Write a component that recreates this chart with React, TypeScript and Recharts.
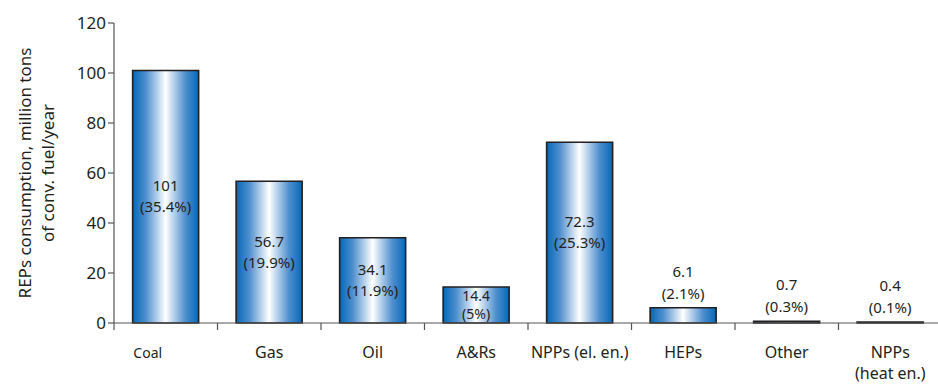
import { Bar, BarChart, LabelList, XAxis, YAxis } from 'recharts';

const categories = ['Coal', 'Gas', 'Oil', 'A&Rs', 'NPPs (el. en.)', 'HEPs', 'Other', 'NPPs (heat en.)'];
const tickLines = [['Coal'], ['Gas'], ['Oil'], ['A&Rs'], ['NPPs (el. en.)'], ['HEPs'], ['Other'], ['NPPs', '(heat en.)']];
const values = [101, 56.7, 34.1, 14.4, 72.3, 6.1, 0.7, 0.4];
const shares = ['35.4%', '19.9%', '11.9%', '5%', '25.3%', '2.1%', '0.3%', '0.1%'];
const yTicks = [0, 20, 40, 60, 80, 100, 120];

const data = categories.map((name, i) => ({ name, value: values[i], share: shares[i] }));

const font = '"Noto Sans", sans-serif';
const ink = '#231f20';

const CategoryTick = (props: any) => {
  const { x, y, payload, index } = props;
  const half = payload?.offset ?? 52;
  const lines = tickLines[index] ?? [payload.value];
  const first = index === 0;
  return (
    <g>
      <line x1={x - half} x2={x - half} y1={y - 8} y2={y - 1} stroke="#555" strokeWidth={1.2} />
      {lines.map((t: string, k: number) => (
        <text
          key={t}
          x={first ? x - 18 : x}
          y={y + 21 + k * 21}
          textAnchor="middle"
          dominantBaseline="central"
          fontFamily={font}
          fontSize={first ? 14 : 16}
          fill={ink}
        >
          {t}
        </text>
      ))}
    </g>
  );
};

const ValueLabel = (props: any) => {
  const { x, y, width, height, index } = props;
  const cx = x + width / 2;
  const top = [values[index].toString(), `(${shares[index]})`];
  let y1: number;
  let y2: number;
  let size = 15;
  if (height > 30) {
    const s = height < 50 ? 18 : 21;
    if (height < 50) size = 14;
    const mid = y + height / 2 - 1;
    y1 = mid - s / 2;
    y2 = mid + s / 2;
  } else {
    y2 = y - 15;
    y1 = y2 - 22;
  }
  return (
    <g fontFamily={font} fontSize={size} fill={ink} textAnchor="middle">
      <text x={cx} y={y1} dominantBaseline="central">{top[0]}</text>
      <text x={cx} y={y2} dominantBaseline="central">{top[1]}</text>
    </g>
  );
};

const YLabel = (props: any) => {
  const { viewBox } = props;
  const cy = viewBox.y + viewBox.height / 2;
  return (
    <g fontFamily={font} fontSize={17} fill={ink} textAnchor="middle">
      <text x={viewBox.x + 24} y={cy} transform={`rotate(-90 ${viewBox.x + 24} ${cy})`} dominantBaseline="central">
        REPs consumption, million tons
      </text>
      <text x={viewBox.x + 47} y={cy} transform={`rotate(-90 ${viewBox.x + 47} ${cy})`} dominantBaseline="central">
        of conv. fuel/year
      </text>
    </g>
  );
};

export default function App() {
  return (
    <div style={{ position: 'absolute', left: 0, top: 0, width: 938, height: 385, overflow: 'hidden', background: '#fff' }}>
      <BarChart width={946} height={385} data={data} margin={{ top: 23, right: 4, bottom: 0, left: 0 }} barCategoryGap="18%">
        <defs>
          <linearGradient id="barFill" x1="0" y1="0" x2="1" y2="0">
            <stop offset="0%" stopColor="#0468b8" />
            <stop offset="20%" stopColor="#4f8fce" />
            <stop offset="50%" stopColor="#ffffff" />
            <stop offset="80%" stopColor="#4f8fce" />
            <stop offset="100%" stopColor="#0468b8" />
          </linearGradient>
        </defs>
        <XAxis
          dataKey="name"
          height={62}
          axisLine={{ stroke: '#555', strokeWidth: 1.2 }}
          tickLine={false}
          tick={<CategoryTick />}
          interval={0}
        />
        <YAxis
          width={114}
          domain={[0, 120]}
          ticks={yTicks}
          axisLine={{ stroke: '#555', strokeWidth: 1.2 }}
          tickLine={{ stroke: '#555', strokeWidth: 1.2 }}
          tickSize={6}
          tick={{ fontFamily: font, fontSize: 17, fill: ink }}
          label={<YLabel />}
        />
        <Bar dataKey="value" fill="url(#barFill)" stroke={ink} strokeWidth={1.6} isAnimationActive={false}>
          <LabelList dataKey="value" content={<ValueLabel />} />
        </Bar>
      </BarChart>
    </div>
  );
}
